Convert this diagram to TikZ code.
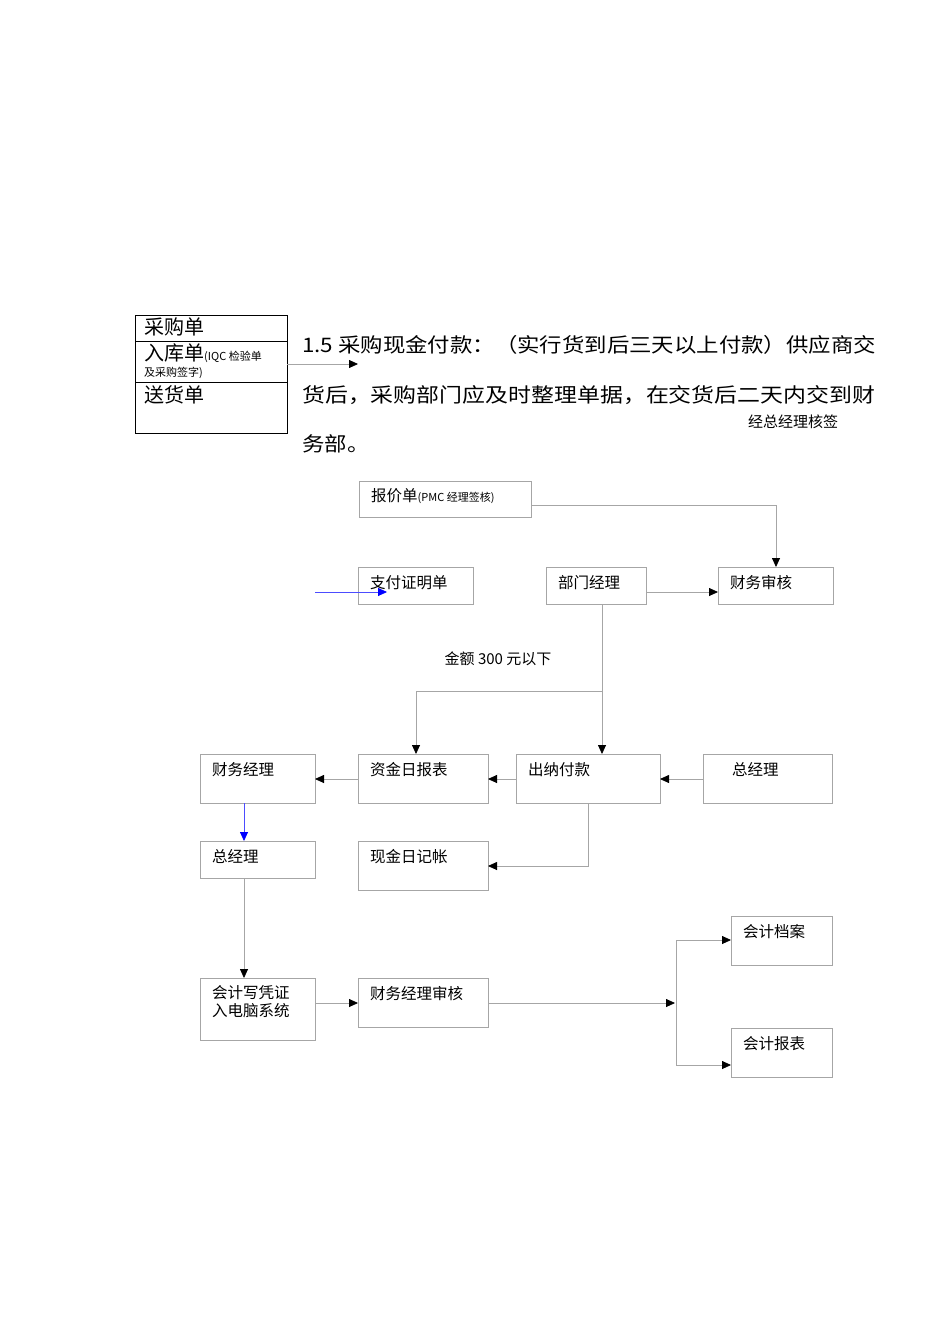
\documentclass[tikz,border=0pt]{standalone}
\usepackage{fontspec}
\setmainfont{Noto Sans CJK SC}
\usetikzlibrary{arrows.meta}
\tikzset{
 bx/.style={draw=black!35,line width=0.8pt},
 ln/.style={draw=black!35,line width=0.8pt},
 ar/.style={ln,-{Triangle[length=9pt,width=8pt,color=black,fill=black]}},
 bar/.style={draw=blue!70,line width=0.8pt,-{Triangle[length=9pt,width=8pt,color=blue,fill=blue]}},
 lab/.style={anchor=north west,inner sep=0pt,font=\fontsize{15.5}{18}\selectfont},
}
\begin{document}
\begin{tikzpicture}[x=1pt,y=-1pt]
\useasboundingbox (0,0) rectangle (950,1344);
% top left box
\draw[line width=0.9pt] (135,315) rectangle (287,433);
\draw[line width=0.9pt] (135,341)--(287,341) (135,382)--(287,382);
\node[lab,font=\fontsize{20}{22}\selectfont] (a1) at (144,317) {采购单};
\node[lab,font=\fontsize{20}{22}\selectfont] (a2) at (144,343) {入库单\fontsize{11}{12}\selectfont(IQC 检验单};
\node[lab,font=\fontsize{11}{12}\selectfont] (a3) at (144,367) {及采购签字)};
\node[lab,font=\fontsize{20}{22}\selectfont] (a4) at (144,385) {送货单};
\coordinate (abr) at (287,364);
\coordinate (aend) at (358,364);
\draw[ar] (abr)--(aend);
% paragraph
\node[anchor=west,inner sep=0pt,font=\fontsize{20}{22}\selectfont,xscale=1.12] (p1) at (302,345) {1.5 采购现金付款：（实行货到后三天以上付款）供应商交};
\node[anchor=west,inner sep=0pt,font=\fontsize{20}{22}\selectfont,xscale=1.146] (p2) at (302,395) {货后，采购部门应及时整理单据，在交货后二天内交到财};
\node[anchor=west,inner sep=0pt,font=\fontsize{20}{22}\selectfont,xscale=1.12] (p3) at (302,444) {务部。};
\node[inner sep=0pt,font=\fontsize{15}{17}\selectfont] (note) at (793,422) {经总经理核签};
% boxes
\newcommand\mybox[6]{\draw[bx] (#2,#3) rectangle (#4,#5); \node[lab] (#1) at (#2+12,#3+8) {#6}; \coordinate (#1-c) at (#2,#3);}
\draw[bx] (359,481) rectangle (531,517); \node[lab] (bj) at (371,488) {报价单\fontsize{11}{12}\selectfont(PMC 经理签核)};
\mybox{zf}{358}{567}{473}{604}{支付证明单}
\mybox{bm}{546}{567}{646}{604}{部门经理}
\mybox{cs}{718}{567}{833}{604}{财务审核}
\mybox{cj}{200}{754}{315}{803}{财务经理}
\mybox{zj}{358}{754}{488}{803}{资金日报表}
\mybox{cn}{516}{754}{660}{803}{出纳付款}
\draw[bx] (703,754) rectangle (832,803); \node[lab] (zg1) at (732,762) {总经理};
\mybox{zg2}{200}{841}{315}{878}{总经理}
\mybox{xj}{358}{841}{488}{890}{现金日记帐}
\draw[bx] (200,978) rectangle (315,1040); \node[lab,align=left] (kj) at (212,985) {会计写凭证\\入电脑系统};
\mybox{cw}{358}{978}{488}{1027}{财务经理审核}
\mybox{da}{731}{916}{832}{965}{会计档案}
\mybox{bb}{731}{1028}{832}{1077}{会计报表}
% connectors
\draw[ar] (531,505)-|(776,567);
\coordinate (bs) at (315,592);
\draw[bar] (bs)--(387,592);
\draw[ar] (646,592)--(718,592);
\draw[ar] (602,604)--(602,754);
\draw[ar] (602,691)-|(416,754);
\node[inner sep=0pt,font=\fontsize{15}{17}\selectfont] (je) at (498,659) {金额 300 元以下};
\draw[ar] (358,779)--(315,779);
\draw[ar] (516,779)--(488,779);
\draw[ar] (703,779)--(660,779);
\draw[bar] (244,803)--(244,841);
\draw[ar] (588,803)|-(488,866);
\draw[ar] (244,878)--(244,978);
\draw[ar] (315,1003)--(358,1003);
\draw[ar] (488,1003)--(675,1003);
\draw[ar] (676,1003)|-(731,940);
\draw[ar] (676,1003)|-(731,1065);
\end{tikzpicture}
\end{document}
